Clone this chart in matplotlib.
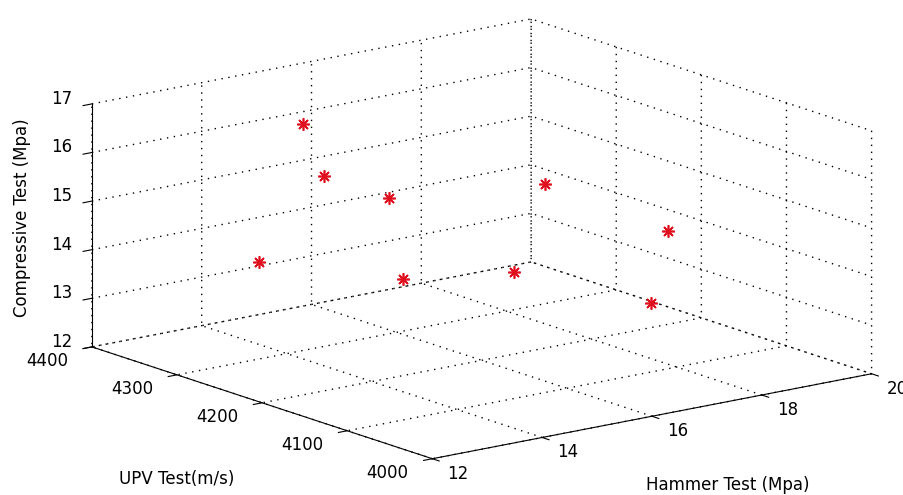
import numpy as np
import matplotlib
matplotlib.use('Agg')
import matplotlib.pyplot as plt
from matplotlib.transforms import offset_copy

# values (depth guessed from projection)
hammer = [15.0, 14.6, 15.8, 14.26, 16.16, 17.7, 18.32, 17.67, 18.49]
upv = [4345, 4295, 4296, 4350, 4303, 4235, 4131, 4270, 4162]
compressive = [16.25, 15.56, 14.84, 13.55, 13.05, 15.06, 14.56, 13.05, 12.85]

x_ticks = [12, 14, 16, 18, 20]
y_ticks = [4000, 4100, 4200, 4300, 4400]
z_ticks = [12, 13, 14, 15, 16, 17]

plt.rcParams['font.family'] = 'DejaVu Sans'
plt.rcParams['font.size'] = 12
plt.rcParams['grid.color'] = 'black'
plt.rcParams['grid.linewidth'] = 1.0

fig = plt.figure(figsize=(9.04, 4.95), dpi=100)
ax = fig.add_axes([0.0255, 0.004, 1, 1], projection='3d', proj_type='ortho')

ax.plot(hammer, upv, compressive, linestyle='none', marker=(8, 2, 0),
        color='#e0101e', markersize=9, markeredgewidth=1.2)

ax.set_xlim(12, 20)
ax.set_ylim(4000, 4400)
ax.set_zlim(12, 17)
ax.set_xticks(x_ticks)
ax.set_yticks(y_ticks)
ax.set_zticks(z_ticks)
ax.set_xticklabels([])
ax.set_yticklabels([])
ax.set_zticklabels([])
ax.view_init(elev=14.6, azim=-127.5)
ax.set_box_aspect((0.99, 1.0, 0.449), zoom=1.62)

for axis in (ax.xaxis, ax.yaxis, ax.zaxis):
    axis.set_pane_color((1, 1, 1, 0))
    axis.pane.set_edgecolor('none')
    axis.line.set_color('black')
    axis.line.set_linewidth(0.8)
    axis._axinfo['grid']['linestyle'] = (0, (1, 4))
    axis._axinfo['grid']['linewidth'] = 1.0
    axis._axinfo['tick']['inward_factor'] = 0.25
    axis._axinfo['tick']['outward_factor'] = 0.0

# tick labels, MATLAB style placement
tr_x = offset_copy(ax.transData, fig=fig, x=18.5, y=-10.8, units='points')
tr_y = offset_copy(ax.transData, fig=fig, x=-32.5, y=-10, units='points')
tr_z = offset_copy(ax.transData, fig=fig, x=-14.4, y=3.6, units='points')
for t in x_ticks:
    ax.text(t, 4000, 12, str(t), transform=tr_x, ha='center', va='center')
for t in y_ticks:
    ax.text(12, t, 12, str(t), transform=tr_y, ha='center', va='center')
for t in z_ticks:
    ax.text(12, 4400, t, str(t), transform=tr_z, ha='right', va='center')

fig.text(0.024, 0.56, 'Compressive Test (Mpa)', rotation=90, ha='center', va='center')
fig.text(0.196, 0.032, 'UPV Test(m/s)', ha='center', va='center')
fig.text(0.805, 0.02, 'Hammer Test (Mpa)', ha='center', va='center')

fig.savefig('out.png', dpi=100)
